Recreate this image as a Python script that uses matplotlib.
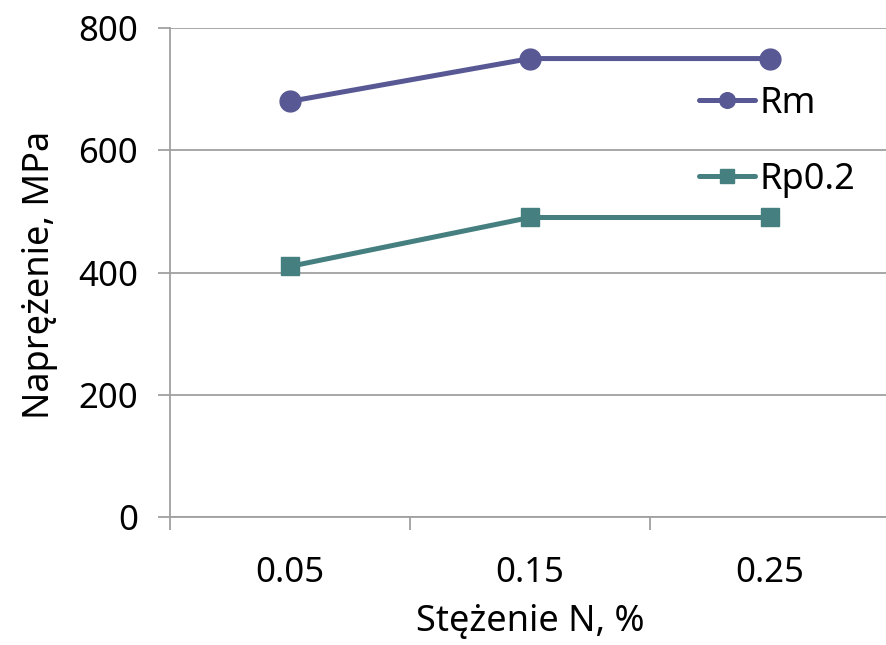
import matplotlib
matplotlib.use("Agg")
import matplotlib.pyplot as plt

# Nitrogen content categories and measured strengths
categories = ["0.05", "0.15", "0.25"]
rm_values = [680, 750, 750]
rp02_values = [410, 490, 490]
y_ticks = [0, 200, 400, 600, 800]

plt.rcParams['font.family'] = ['Noto Sans', 'DejaVu Sans']

fig = plt.figure(figsize=(8.87, 6.45), dpi=100)
ax = fig.add_axes([170 / 887, 128 / 645, 720 / 887, 489 / 645])

x = list(range(len(categories)))
rm_color = "#575894"
rp_color = "#467f80"

ax.plot(x, rm_values, color=rm_color, lw=3.6, marker="o", ms=15,
        label="Rm", solid_capstyle="round", clip_on=False, zorder=3)
ax.plot(x, rp02_values, color=rp_color, lw=3.6, marker="s", ms=13.5,
        label="Rp0.2", solid_capstyle="round", clip_on=False, zorder=3)

ax.set_xlim(-0.5, len(categories) - 0.5)
ax.set_ylim(0, 800)
ax.set_yticks(y_ticks)
ax.set_yticklabels([str(v) for v in y_ticks])
ax.set_xticks(x)
ax.set_xticklabels(categories)
ax.set_xticks([-0.5, 0.5, 1.5], minor=True)

grid_color = "#a0a0a0"
ax.yaxis.grid(True, color=grid_color, lw=1.3)
ax.set_axisbelow(True)
for s in ["top", "right"]:
    ax.spines[s].set_visible(False)
for s in ["left", "bottom"]:
    ax.spines[s].set_color(grid_color)
    ax.spines[s].set_linewidth(1.3)

ax.tick_params(axis="y", length=9, width=1.3, color=grid_color,
               labelsize=25, pad=14)
ax.tick_params(axis="x", which="major", length=0, labelsize=25, pad=28)
ax.tick_params(axis="x", which="minor", length=9, width=1.3, color=grid_color)

fig.text(40 / 887, 1 - 275 / 645, "Naprężenie, MPa", fontsize=26,
         rotation=90, ha="center", va="center")
fig.text(530 / 887, 1 - 622 / 645, "Stężenie N, %", fontsize=26,
         ha="center", va="center")

leg = ax.legend(loc="upper left", bbox_to_anchor=(681 / 887, 1 - 68 / 645),
                bbox_transform=fig.transFigure, frameon=False, fontsize=26,
                markerscale=0.75, handlelength=1.55, handletextpad=0.12,
                labelspacing=1.1, borderpad=0)

fig.savefig("out.png", dpi=100)
